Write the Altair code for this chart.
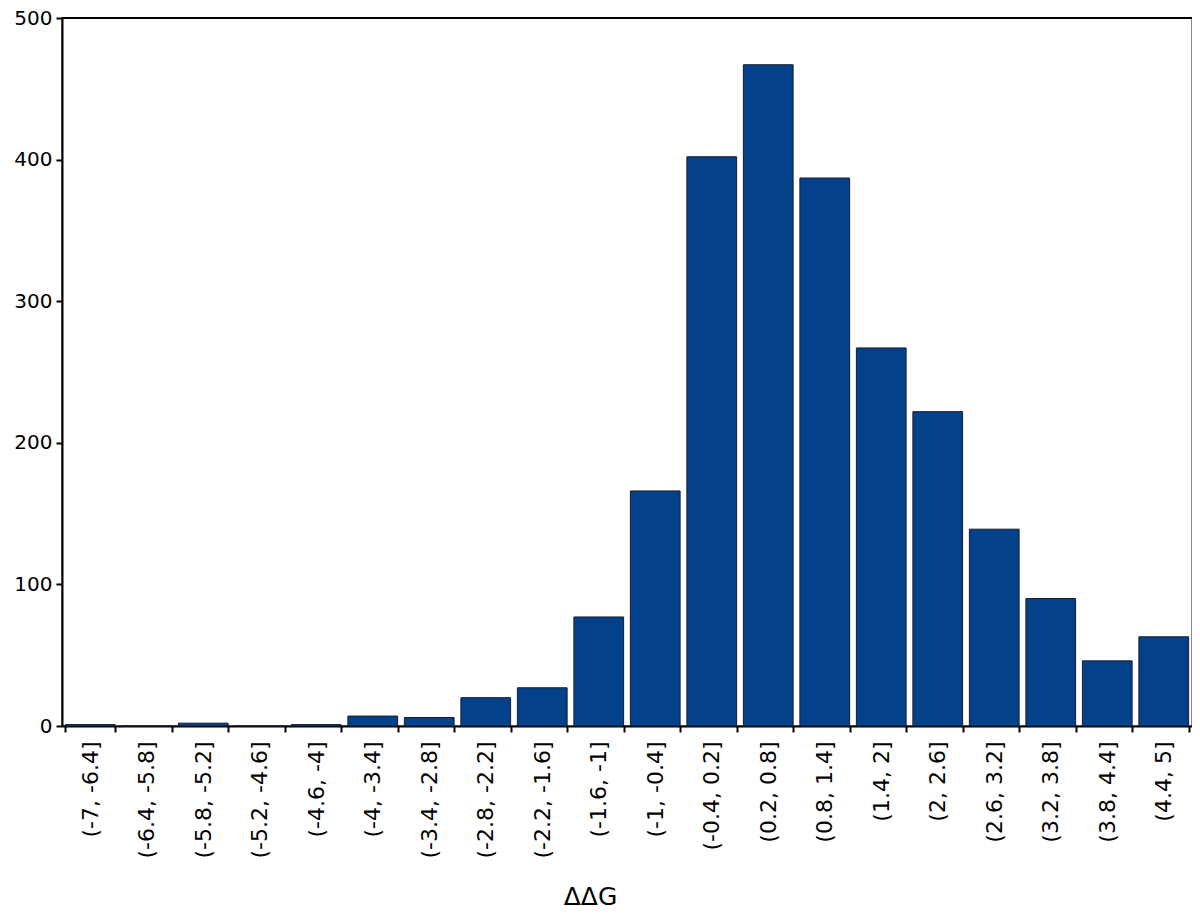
import altair as alt
import pandas as pd

bins = ["(-7, -6.4]", "(-6.4, -5.8]", "(-5.8, -5.2]", "(-5.2, -4.6]", "(-4.6, -4]",
        "(-4, -3.4]", "(-3.4, -2.8]", "(-2.8, -2.2]", "(-2.2, -1.6]", "(-1.6, -1]",
        "(-1, -0.4]", "(-0.4, 0.2]", "(0.2, 0.8]", "(0.8, 1.4]", "(1.4, 2]",
        "(2, 2.6]", "(2.6, 3.2]", "(3.2, 3.8]", "(3.8, 4.4]", "(4.4, 5]"]
counts = [1, 0, 2, 0, 1, 7, 6, 20, 27, 77, 166, 402, 467, 387, 267, 222, 139, 90, 46, 63]

df = pd.DataFrame({"bin": bins, "count": counts})

W, H = 1130, 708
FONT = "DejaVu Sans"

bars = alt.Chart(df).mark_bar(color="#03428a", stroke="#1a1a2e", strokeWidth=1).encode(
    x=alt.X("bin:N", sort=bins,
            scale=alt.Scale(paddingInner=0.12, paddingOuter=0.06),
            axis=alt.Axis(title="ΔΔG", labelAngle=-90, labelFontSize=22, labelFont=FONT,
                          labelColor="black", tickBand="extent", tickSize=6, tickColor="black",
                          tickWidth=2, domainColor="black", domainWidth=2, labelPadding=9,
                          titleFont=FONT, titleFontSize=25, titleFontWeight="normal",
                          titleColor="black", titleX=528, titlePadding=26)),
    y=alt.Y("count:Q", scale=alt.Scale(domain=[0, 500], nice=False),
            axis=alt.Axis(title=None, values=[0, 100, 200, 300, 400, 500], grid=False,
                          labelFontSize=20, labelFont=FONT, labelColor="black",
                          tickSize=6, tickColor="black", tickWidth=2, domainColor="black",
                          domainWidth=2, labelPadding=4)),
)

top = alt.Chart(df).mark_rule(color="black", strokeWidth=2).encode(
    x=alt.value(0), x2=alt.value(W), y=alt.value(0)
)

chart = alt.layer(bars, top).properties(
    width=W, height=H, padding={"left": 54, "top": 10, "right": 0, "bottom": 188},
    autosize=alt.AutoSizeParams(type="none")
).configure_view(stroke="#888888", strokeWidth=2).configure_axis(grid=False)

chart.save("out.html", embed_options={"renderer": "svg", "actions": False})
